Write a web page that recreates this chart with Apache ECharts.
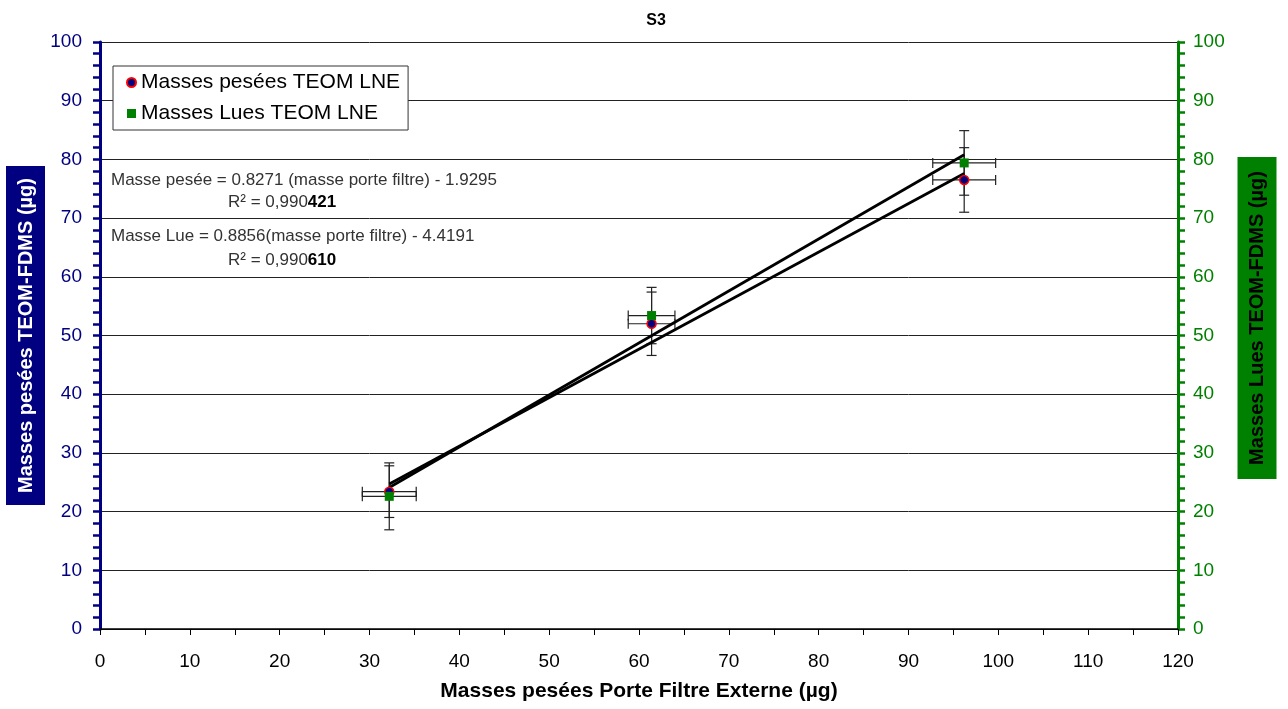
<!DOCTYPE html>
<html>
<head>
<meta charset="utf-8">
<title>S3</title>
<script src="https://cdn.jsdelivr.net/npm/echarts@6/dist/echarts.min.js"></script>
<style>
  html, body { margin: 0; padding: 0; background: #fff; }
  #chart { width: 1288px; height: 709px; }
</style>
</head>
<body>
<div id="chart"></div>
<script>
// masses porte filtre externe (x) et masses TEOM (y)
var xPorte = [32.2, 61.4, 96.2];
var massesPesees = [23.4, 52.0, 76.5];
var massesLues = [22.6, 53.4, 79.4];
// barres d'erreur (demi-largeur)
var errPorte = [3.0, 2.6, 3.5];
var errPesees = [4.4, 5.4, 5.5];
var errLues = [5.7, 4.8, 5.5];
// droites de regression (extremites)
var trendPesee = [[32.2, 24.7], [96.2, 77.6]];
var trendLue = [[32.2, 24.1], [96.2, 80.8]];
var xTicks = [0, 120, 10];
var yTicks = [0, 100, 10];

var FONT = "'Liberation Sans', Arial, sans-serif";
var NAVY = "#000080";
var GREEN = "#008000";

function points(ys) {
  return xPorte.map(function (x, i) { return [x, ys[i]]; });
}
function errData(ys, errs) {
  return xPorte.map(function (x, i) { return [x, ys[i], errPorte[i], errs[i]]; });
}

function renderErr(params, api) {
  var x = api.value(0), y = api.value(1), ex = api.value(2), ey = api.value(3);
  var top = api.coord([x, y + ey]);
  var bot = api.coord([x, y - ey]);
  var lft = api.coord([x - ex, y]);
  var rgt = api.coord([x + ex, y]);
  var style = { stroke: "#222", lineWidth: 1.2 };
  function seg(x1, y1, x2, y2) {
    return { type: "line", shape: { x1: x1, y1: y1, x2: x2, y2: y2 }, style: style };
  }
  return {
    type: "group",
    children: [
      seg(top[0], top[1], bot[0], bot[1]),
      seg(top[0] - 5, top[1], top[0] + 5, top[1]),
      seg(bot[0] - 5, bot[1], bot[0] + 5, bot[1]),
      seg(lft[0], lft[1], rgt[0], rgt[1]),
      seg(lft[0], lft[1] - 5, lft[0], lft[1] + 5),
      seg(rgt[0], rgt[1] - 5, rgt[0], rgt[1] + 5)
    ]
  };
}

var myChart = echarts.init(document.getElementById("chart"));
var option = {
  animation: false,
  textStyle: { fontFamily: FONT },
  title: {
    text: "S3",
    left: 651,
    top: 8,
    textAlign: "center",
    textStyle: { fontSize: 16, fontWeight: "bold", color: "#000", fontFamily: FONT }
  },
  legend: {
    orient: "vertical",
    left: 113,
    top: 66,
    padding: [6, 8, 6, 13],
    itemGap: 10,
    itemWidth: 9,
    itemHeight: 9,
    backgroundColor: "#fff",
    borderColor: "#333",
    borderWidth: 1,
    textStyle: { fontSize: 21, color: "#000", fontFamily: FONT },
    data: ["Masses pesées TEOM LNE", "Masses Lues TEOM LNE"]
  },
  grid: { left: 100, right: 110, top: 42, bottom: 80, outerBoundsMode: "none", containLabel: false },
  xAxis: {
    type: "value",
    min: xTicks[0],
    max: xTicks[1],
    interval: xTicks[2],
    name: "Masses pesées Porte Filtre Externe (µg)",
    nameLocation: "middle",
    nameGap: 52,
    nameMoveOverlap: false,
    nameTextStyle: { fontSize: 21, fontWeight: "bold", color: "#000", fontFamily: FONT },
    axisLine: { lineStyle: { color: "#000", width: 1.5 } },
    axisTick: { show: true, length: 6, lineStyle: { color: "#000" } },
    minorTick: { show: true, splitNumber: 2, length: 6, lineStyle: { color: "#000" } },
    axisLabel: { fontSize: 19, color: "#000", margin: 23, fontFamily: FONT },
    splitLine: { show: false }
  },
  yAxis: [
    {
      type: "value",
      position: "left",
      min: yTicks[0],
      max: yTicks[1],
      interval: yTicks[2],
      name: "Masses pesées TEOM-FDMS (µg)",
      nameLocation: "middle",
      nameRotate: 90,
      nameGap: 55,
      nameMoveOverlap: false,
      nameTextStyle: {
        fontSize: 20, fontWeight: "bold", color: "#fff", fontFamily: FONT,
        backgroundColor: NAVY, padding: [10, 12, 9, 12]
      },
      axisLine: { show: true, lineStyle: { color: NAVY, width: 3 } },
      axisTick: { show: true, length: 7, lineStyle: { color: NAVY, width: 2.5 } },
      minorTick: { show: true, splitNumber: 5, length: 7, lineStyle: { color: NAVY, width: 2.5 } },
      axisLabel: { fontSize: 19, color: NAVY, margin: 18, fontFamily: FONT },
      splitLine: { show: true, lineStyle: { color: "#222", width: 1 } }
    },
    {
      type: "value",
      position: "right",
      min: yTicks[0],
      max: yTicks[1],
      interval: yTicks[2],
      axisLine: { show: true, lineStyle: { color: GREEN, width: 3 } },
      axisTick: { show: true, length: 7, lineStyle: { color: GREEN, width: 2.5 } },
      minorTick: { show: true, splitNumber: 5, length: 7, lineStyle: { color: GREEN, width: 2.5 } },
      axisLabel: { fontSize: 19, color: GREEN, margin: 15, fontFamily: FONT },
      splitLine: { show: false }
    }
  ],
  graphic: [
    {
      type: "text", x: 1257, y: 318, rotation: Math.PI / 2, z: 100,
      style: {
        text: "Masses Lues TEOM-FDMS (µg)", font: "bold 20px " + FONT, fill: "#000",
        backgroundColor: GREEN, padding: [10, 14, 9, 14], align: "center", verticalAlign: "middle"
      }
    },
    {
      type: "text", left: 111, top: 172, z: 100,
      style: { text: "Masse pesée = 0.8271 (masse porte filtre) - 1.9295", font: "17px " + FONT, fill: "#333" }
    },
    {
      type: "text", left: 228, top: 194, z: 100,
      style: {
        text: "R² = 0,990{b|421}", font: "17px " + FONT, fill: "#333",
        rich: { b: { fontWeight: "bold", fontSize: 17, fill: "#000", fontFamily: FONT } }
      }
    },
    {
      type: "text", left: 111, top: 228, z: 100,
      style: { text: "Masse Lue = 0.8856(masse porte filtre) - 4.4191", font: "17px " + FONT, fill: "#333" }
    },
    {
      type: "text", left: 228, top: 252, z: 100,
      style: {
        text: "R² = 0,990{b|610}", font: "17px " + FONT, fill: "#333",
        rich: { b: { fontWeight: "bold", fontSize: 17, fill: "#000", fontFamily: FONT } }
      }
    }
  ],
  series: [
    {
      name: "err pesees",
      type: "custom",
      renderItem: renderErr,
      data: errData(massesPesees, errPesees),
      z: 2,
      silent: true
    },
    {
      name: "err lues",
      type: "custom",
      yAxisIndex: 1,
      renderItem: renderErr,
      data: errData(massesLues, errLues),
      z: 2,
      silent: true
    },
    {
      name: "trend pesee",
      type: "line",
      data: trendPesee,
      symbol: "none",
      lineStyle: { color: "#000", width: 2.8 },
      z: 4
    },
    {
      name: "trend lue",
      type: "line",
      yAxisIndex: 1,
      data: trendLue,
      symbol: "none",
      lineStyle: { color: "#000", width: 2.8 },
      z: 4
    },
    {
      name: "Masses pesées TEOM LNE",
      type: "scatter",
      data: points(massesPesees),
      symbol: "circle",
      symbolSize: 9,
      itemStyle: { color: NAVY, borderColor: "#f00", borderWidth: 1.5, opacity: 1 },
      z: 5
    },
    {
      name: "Masses Lues TEOM LNE",
      type: "scatter",
      yAxisIndex: 1,
      data: points(massesLues),
      symbol: "rect",
      symbolSize: 9,
      itemStyle: { color: GREEN, opacity: 1 },
      z: 6
    }
  ]
};
myChart.setOption(option);
</script>
</body>
</html>
